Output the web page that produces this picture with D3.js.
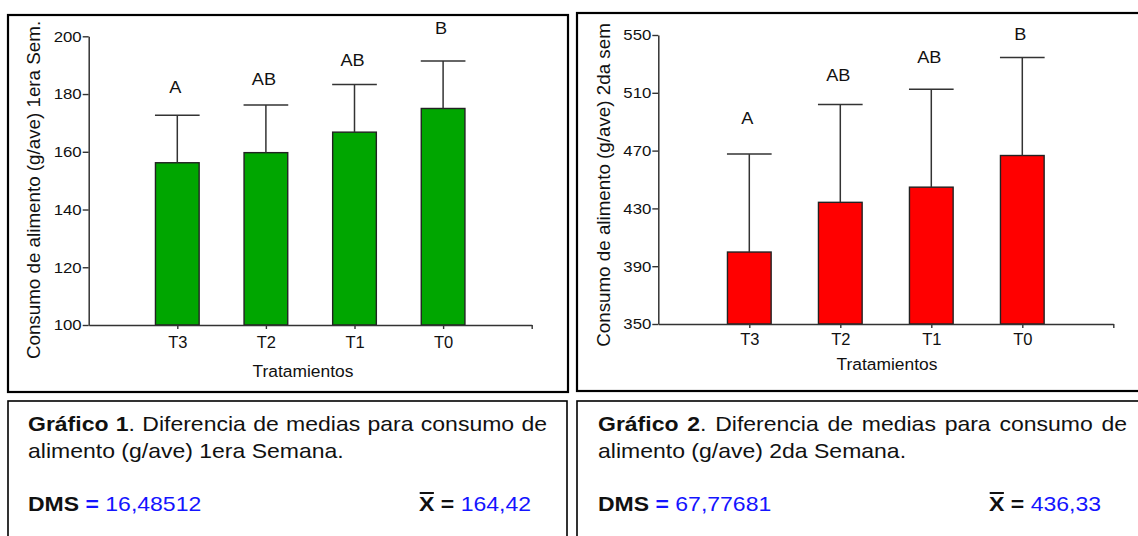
<!DOCTYPE html>
<html>
<head>
<meta charset="utf-8">
<script src="https://cdn.jsdelivr.net/npm/d3@7"></script>
<style>
  body { margin: 0; background: #fff; }
  svg { display: block; font-family: "Liberation Sans", Arial, sans-serif; }
</style>
</head>
<body>
<svg id="fig" width="1138" height="536"></svg>
<script>
// Treatments and Tukey-style group letters
const categories = ["T3", "T2", "T1", "T0"];
const groupLetters = ["A", "AB", "AB", "B"];

// Mean feed intake (g/bird), week 1 and week 2
const week1Means = [156.2, 159.7, 166.8, 175.0];
const week2Means = [399.8, 434.2, 444.7, 466.6];

// Least significant difference, drawn as the error bar above each mean
const week1Dms = 16.48512;
const week2Dms = 67.77681;

// Y-axis tick values
const week1Ticks = [100, 120, 140, 160, 180, 200];
const week2Ticks = [350, 390, 430, 470, 510, 550];

// Caption texts
const captionTitles = ["Gráfico 1", "Gráfico 2"];
const captionLine1 = ". Diferencia de medias para consumo de";
const captionLine2 = ["alimento (g/ave) 1era Semana.", "alimento (g/ave) 2da Semana."];
const dmsLabels = ["16,48512", "67,77681"];
const meanLabels = ["164,42", "436,33"];

const svg = d3.select("#fig");
svg.append("rect").attr("width", 1138).attr("height", 536).attr("fill", "#fff");

const INK = "#111";
const AXIS = "#333";
const BLUE = "#1414ff";
const FONT = "Liberation Sans, Arial, sans-serif";

const panels = [
  {
    means: week1Means, dms: week1Dms, ticks: week1Ticks, domain: [100, 200],
    frame: { x: 8, y: 15, w: 560, h: 377 },
    plot: { x0: 88.7, x1: 531.7, yb: 325, yt: 36.3 },
    yTitle: { x: 33, y: 190, text: "Consumo de alimento (g/ave) 1era Sem." },
    xTitle: { x: 303, y: 376.7 },
    xLabelGap: 7.2,
    letterOffsets: [28, 26, 25, 33],
    fill: "#00a600",
    barFrac: 0.493
  },
  {
    means: week2Means, dms: week2Dms, ticks: week2Ticks, domain: [350, 550],
    frame: { x: 577, y: 13, w: 575, h: 378 },
    plot: { x0: 658.3, x1: 1113.3, yb: 324, yt: 35 },
    yTitle: { x: 603, y: 185, text: "Consumo de alimento (g/ave) 2da sem" },
    xTitle: { x: 887, y: 370 },
    xLabelGap: 5.5,
    letterOffsets: [36, 29, 32, 24],
    fill: "#ff0000",
    barFrac: 0.48
  }
];

panels.forEach(p => {
  const g = svg.append("g");

  // outer frame
  g.append("rect")
    .attr("x", p.frame.x).attr("y", p.frame.y)
    .attr("width", p.frame.w).attr("height", p.frame.h)
    .attr("fill", "none").attr("stroke", "#000").attr("stroke-width", 2.2);

  const x = d3.scaleLinear().domain([0, 5]).range([p.plot.x0, p.plot.x1]);
  const y = d3.scaleLinear().domain(p.domain).range([p.plot.yb, p.plot.yt]);
  const step = x(1) - x(0);
  const bw = step * p.barFrac;

  // bars
  g.selectAll("rect.bar").data(p.means).join("rect")
    .attr("class", "bar")
    .attr("x", (d, i) => x(i + 1) - bw / 2)
    .attr("y", d => y(d))
    .attr("width", bw)
    .attr("height", d => y(p.domain[0]) - y(d))
    .attr("fill", p.fill)
    .attr("stroke", "#222").attr("stroke-width", 1.4);

  // error bars (mean + DMS)
  const eb = g.selectAll("g.err").data(p.means).join("g").attr("class", "err");
  eb.append("line")
    .attr("x1", (d, i) => x(i + 1)).attr("x2", (d, i) => x(i + 1))
    .attr("y1", d => y(d)).attr("y2", d => y(d + p.dms))
    .attr("stroke", AXIS).attr("stroke-width", 1.5);
  eb.append("line")
    .attr("x1", (d, i) => x(i + 1) - bw / 2 - 0.5).attr("x2", (d, i) => x(i + 1) + bw / 2 + 0.5)
    .attr("y1", d => y(d + p.dms)).attr("y2", d => y(d + p.dms))
    .attr("stroke", AXIS).attr("stroke-width", 1.5);

  // group letters
  g.selectAll("text.letter").data(p.means).join("text")
    .attr("class", "letter")
    .attr("transform", (d, i) =>
      `translate(${x(i + 1) - 2},${y(d + p.dms) - p.letterOffsets[i] + 6}) scale(1.1,1)`)
    .attr("text-anchor", "middle")
    .attr("font-size", 16.5).attr("fill", INK)
    .text((d, i) => groupLetters[i]);

  // y axis
  const yAxis = g.append("g")
    .attr("transform", `translate(${p.plot.x0},0)`)
    .call(d3.axisLeft(y).tickValues(p.ticks).tickSize(6).tickSizeOuter(0).tickPadding(1));
  yAxis.selectAll(".tick text")
    .attr("font-size", 15).attr("fill", INK).attr("font-family", FONT)
    .attr("transform", "scale(1.12,1)")
    .attr("x", -7 / 1.12);

  // x axis
  const xAxis = g.append("g")
    .attr("transform", `translate(0,${p.plot.yb})`)
    .call(d3.axisBottom(x).tickValues([1, 2, 3, 4, 5]).tickSize(4).tickSizeOuter(0)
      .tickPadding(p.xLabelGap)
      .tickFormat(v => categories[v - 1] || ""));
  xAxis.selectAll("text").attr("font-size", 16.5).attr("fill", INK).attr("font-family", FONT);

  [yAxis, xAxis].forEach(a => {
    a.select(".domain").attr("stroke", AXIS).attr("stroke-width", 1.5);
    a.selectAll(".tick line").attr("stroke", AXIS).attr("stroke-width", 1.4);
  });

  // axis titles
  g.append("text")
    .attr("transform", `translate(${p.yTitle.x},${p.yTitle.y}) rotate(-90)`)
    .attr("text-anchor", "middle").attr("dy", "0.36em")
    .attr("font-size", 18.8).attr("fill", INK)
    .text(p.yTitle.text);
  g.append("text")
    .attr("x", p.xTitle.x).attr("y", p.xTitle.y)
    .attr("text-anchor", "middle")
    .attr("font-size", 17.4).attr("fill", INK)
    .text("Tratamientos");
});

// caption boxes
const captions = [
  { box: { x: 8, y: 401, w: 559, h: 150 }, left: 28, right1: 547, meanRight: 531 },
  { box: { x: 577, y: 401, w: 575, h: 150 }, left: 598, right1: 1127, meanRight: 1101 }
];
const SX = 1.15;
const CAP = 20;

captions.forEach((c, k) => {
  svg.append("rect")
    .attr("x", c.box.x).attr("y", c.box.y).attr("width", c.box.w).attr("height", c.box.h)
    .attr("fill", "none").attr("stroke", "#000").attr("stroke-width", 1.6);

  const cg = svg.append("g").attr("transform", `translate(${c.left},0) scale(${SX},1)`)
    .attr("font-size", CAP).attr("fill", INK);

  // first line, justified to the box width
  const l1 = cg.append("text").attr("x", 0).attr("y", 431);
  l1.append("tspan").attr("font-weight", "bold").text(captionTitles[k]);
  l1.append("tspan").text(captionLine1);
  const natural = l1.node().getComputedTextLength();
  const target = (c.right1 - c.left) / SX;
  const spaces = (captionTitles[k] + captionLine1).split(" ").length - 1;
  if (target > natural) l1.attr("word-spacing", (target - natural) / spaces);

  cg.append("text").attr("x", 0).attr("y", 458).text(captionLine2[k]);

  // DMS value
  const d = cg.append("text").attr("x", 0).attr("y", 511);
  d.append("tspan").attr("font-weight", "bold").text("DMS");
  d.append("tspan").attr("font-weight", "bold").attr("fill", BLUE).text(" = ");
  d.append("tspan").attr("fill", BLUE).text(dmsLabels[k]);

  // overall mean, x-bar
  const mx = (c.meanRight - c.left) / SX;
  const m = cg.append("text").attr("x", mx).attr("y", 511).attr("text-anchor", "end");
  m.append("tspan").attr("font-weight", "bold").text("X");
  m.append("tspan").attr("font-weight", "bold").text(" = ");
  m.append("tspan").attr("fill", BLUE).text(meanLabels[k]);
  const s = m.node().getStartPositionOfChar(0).x;
  const e = m.node().getEndPositionOfChar(0).x;
  cg.append("line")
    .attr("x1", s + 0.5).attr("x2", e - 0.5)
    .attr("y1", 511 - 18).attr("y2", 511 - 18)
    .attr("stroke", INK).attr("stroke-width", 2);
});
</script>
</body>
</html>
